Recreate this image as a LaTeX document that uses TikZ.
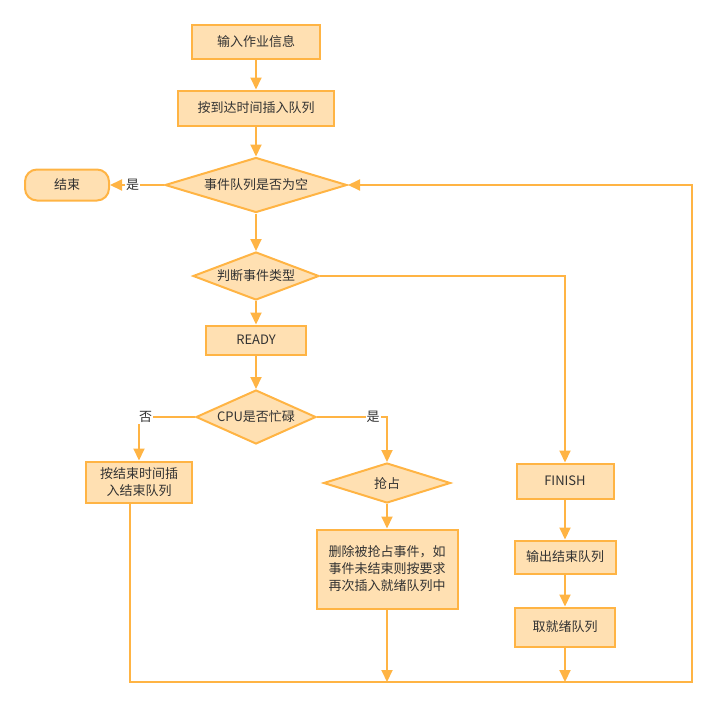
\documentclass[tikz,border=0pt]{standalone}
\usepackage{fontspec}
\setmainfont{Noto Sans CJK SC}
\usetikzlibrary{shapes.geometric,arrows.meta}
\definecolor{lineorange}{HTML}{FFB444}
\definecolor{fillorange}{HTML}{FFE0B2}
\definecolor{textgray}{HTML}{333333}
\begin{document}
\begin{tikzpicture}[x=1pt,y=-1pt]
\tikzstyle{every node}+=[inner sep=0pt, text=textgray, font=\fontsize{13}{17}\selectfont]
\tikzstyle{procbox}=[draw=lineorange, fill=fillorange, line width=2pt, rectangle, align=center]
\tikzstyle{decision}=[draw=lineorange, fill=fillorange, line width=2pt, diamond, aspect=3]
\tikzstyle{flow}=[draw=lineorange, line width=2pt, -{Triangle[length=12pt,width=11pt]}]
\tikzstyle{cond}=[fill=white, inner sep=1pt]
\useasboundingbox (0,0) rectangle (717,707);
% nodes
\node [procbox, minimum width=128, minimum height=34] (input) at (256,42) {输入作业信息};
\node [procbox, minimum width=156, minimum height=35] (sort) at (256,108) {按到达时间插入队列};
\node [decision, minimum width=182, minimum height=55] (empty) at (256,185) {事件队列是否为空};
\node [procbox, rounded corners=12pt, minimum width=84, minimum height=31] (stop) at (67,185) {结束};
\node [decision, minimum width=126, minimum height=48] (kind) at (256,276) {判断事件类型};
\node [procbox, minimum width=100, minimum height=29] (ready) at (256,340) {READY};
\node [decision, minimum width=120, minimum height=54] (cpu) at (256,417) {CPU是否忙碌};
\node [procbox, minimum width=106, minimum height=41] (endq) at (139,482) {按结束时间插\\入结束队列};
\node [decision, minimum width=127, minimum height=40] (grab) at (387,483) {抢占};
\node [procbox, minimum width=141, minimum height=79] (del) at (387,569) {删除被抢占事件，如\\事件未结束则按要求\\再次插入就绪队列中};
\node [procbox, minimum width=97, minimum height=35] (finish) at (565,481) {FINISH};
\node [procbox, minimum width=101, minimum height=33] (outq) at (565,557) {输出结束队列};
\node [procbox, minimum width=100, minimum height=39] (takeq) at (565,627) {取就绪队列};
\coordinate (loopL) at (130,682);
\coordinate (loopR) at (692,682);
% connectors
\draw [flow] (input) -- (sort);
\draw [flow] (sort) -- (empty);
\draw [flow] (empty.west) -- node [cond, pos=0.58] {是} (stop.east);
\draw [flow] (empty) -- (kind);
\draw [flow] (kind.east) -| (finish.north);
\draw [flow] (kind) -- (ready);
\draw [flow] (ready) -- (cpu);
\draw [flow] (cpu.west) -| node [cond, pos=0.44] {否} (endq.north);
\draw [flow] (cpu.east) -| node [cond, pos=0.4] {是} (grab.north);
\draw [flow] (grab) -- (del);
\draw [flow] (finish) -- (outq);
\draw [flow] (outq) -- (takeq);
\draw [flow] (loopL |- endq.south) -- (loopL) -- (loopR) -- (loopR |- empty.east) -- (empty.east);
\draw [flow] (del.south) -- (del.south |- loopL);
\draw [flow] (takeq.south) -- (takeq.south |- loopL);
\end{tikzpicture}
\end{document}
